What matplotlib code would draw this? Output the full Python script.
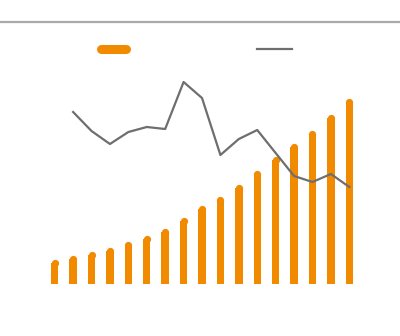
import numpy as np
import matplotlib
matplotlib.use('Agg')
import matplotlib.pyplot as plt
from matplotlib.lines import Line2D

# values (same scale for both series)
positions = list(range(17))
bar_values = [25, 29, 33, 37, 43, 49, 56, 67, 79, 88, 100, 114, 128, 141, 154, 170, 186]
line_values = [np.nan, 172, 153, 140, 152, 157, 155, 202, 186, 129, 145, 154, 131, 108, 102, 110, 97]

orange = '#f28a00'
gray = '#6e6e6e'

fig = plt.figure(figsize=(4, 3.36), dpi=100)
ax = fig.add_axes([45.5 / 400, 52 / 336, 313 / 400, 224 / 336])

# bars with rounded tops: a bar plus a round marker on top
bar_w = 0.4
r = 3.6  # cap radius in data units (1 unit ~ 1 px)
ax.bar(positions, [v - r for v in bar_values], width=bar_w, color=orange, linewidth=0)
ax.plot(positions, [v - r for v in bar_values], linestyle='none', marker='o',
        markersize=5.2, color=orange, markeredgewidth=0)

ax.plot(positions, line_values, color=gray, linewidth=1.6)

ax.set_xlim(-0.5, 16.5)
ax.set_ylim(0, 224)
ax.axis('off')

# top rule
fig.add_artist(Line2D([0, 1], [1 - 22 / 336] * 2, color='#aaaaaa', linewidth=1.6))

# legend keys (no labels)
fig.add_artist(Line2D([101 / 400, 126 / 400], [1 - 49 / 336] * 2, color=orange,
                      linewidth=6.5, solid_capstyle='round'))
fig.add_artist(Line2D([257 / 400, 292 / 400], [1 - 49 / 336] * 2, color=gray,
                      linewidth=1.6))

fig.savefig('out.png', dpi=100)
